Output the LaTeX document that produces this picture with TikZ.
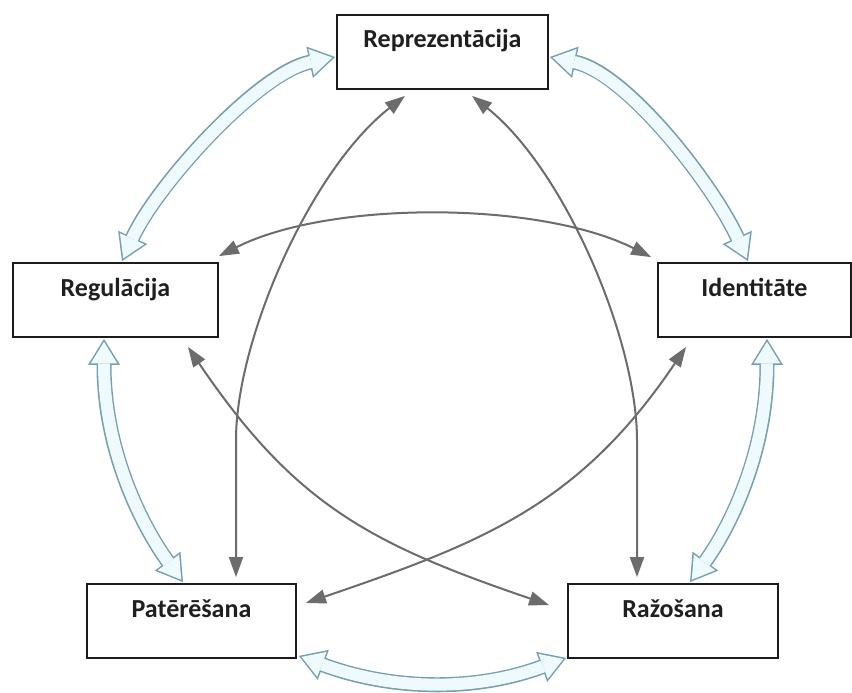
\documentclass[tikz,border=0pt]{standalone}
\usepackage{fontspec}
\setmainfont{Carlito}
\usetikzlibrary{arrows.meta}
\definecolor{holline}{RGB}{118,160,176}
\definecolor{holfill}{RGB}{238,250,253}
\definecolor{greyarrow}{RGB}{108,108,108}
\definecolor{boxline}{RGB}{28,28,28}
\begin{document}
\begin{tikzpicture}[x=1pt,y=-1pt,
  box/.style={draw=boxline, line width=1.8pt, fill=white, rectangle, inner sep=0pt,
    text height=33pt, text depth=41pt, font=\fontsize{26}{30}\selectfont\bfseries, text=black!88},
  grarrow/.style={draw=greyarrow, line width=2pt,
    {Triangle[length=20pt,width=14pt]}-{Triangle[length=20pt,width=14pt]}},
  holout/.style={draw=holline, line width=15pt,
    {Triangle[length=26pt,width=32pt,line width=0pt]}-{Triangle[length=26pt,width=32pt,line width=0pt]}},
  holin/.style={draw=holfill, line width=12pt, shorten <=2.9pt, shorten >=2.9pt,
    {Triangle[length=21.6pt,width=26.6pt,line width=0pt]}-{Triangle[length=21.6pt,width=26.6pt,line width=0pt]}}
]
\useasboundingbox (0,0) rectangle (852,693);
\fill[white] (0,0) rectangle (852,693);

% boxes (placed first for anchors)
\node[box, minimum width=211pt] (rep) at (442.5,52) {Reprezentācija};
\node[box, minimum width=205pt] (reg) at (115.5,300) {Regulācija};
\node[box, minimum width=193pt] (ide) at (754.5,300) {Identitāte};
\node[box, minimum width=209pt] (pat) at (191.5,621) {Patērēšana};
\node[box, minimum width=210pt] (raz) at (673,621) {Ražošana};

% hollow arrow end points
\coordinate (h1a) at ([xshift=6.5pt,yshift=1pt]reg.north);
\coordinate (h1b) at ([xshift=-1pt,yshift=-5pt]rep.west);
\coordinate (h2a) at ([xshift=-6.5pt,yshift=1pt]ide.north);
\coordinate (h2b) at ([xshift=1pt,yshift=-5pt]rep.east);
\coordinate (h3a) at ([xshift=-11.5pt,yshift=-1pt]reg.south);
\coordinate (h3b) at ([xshift=-8.5pt,yshift=1pt]pat.north);
\coordinate (h4a) at ([xshift=12.5pt,yshift=-1pt]ide.south);
\coordinate (h4b) at ([xshift=17pt,yshift=1pt]raz.north);
\coordinate (h5a) at ([xshift=2pt,yshift=3pt]pat.south east);
\coordinate (h5b) at ([xshift=-1pt,yshift=1pt]raz.south west);

% grey arrow end points
\coordinate (g1a) at ([xshift=44.5pt,yshift=6pt]pat.north);
\coordinate (g1b) at ([xshift=-37.5pt,yshift=-6pt]rep.south);
\coordinate (g2a) at ([xshift=-36pt,yshift=6pt]raz.north);
\coordinate (g2b) at ([xshift=29.5pt,yshift=-6pt]rep.south);
\coordinate (g3a) at ([yshift=6pt]reg.north east);
\coordinate (g3b) at ([xshift=-6pt,yshift=5pt]ide.north west);
\coordinate (g4a) at ([xshift=72.5pt,yshift=-9pt]reg.south);
\coordinate (g4b) at ([xshift=-18pt,yshift=16pt]raz.west);
\coordinate (g5a) at ([xshift=-68.5pt,yshift=-9pt]ide.south);
\coordinate (g5b) at ([xshift=9pt,yshift=18pt]pat.east);

% hollow arrows: outline pass
\draw[holout] (h1a) .. controls (156,186) and (257.6,73) .. (h1b);
\draw[holout] (h2a) .. controls (714,186) and (627,73) .. (h2b);
\draw[holout] (h3a) .. controls (104,458) and (147.6,534) .. (h3b);
\draw[holout] (h4a) .. controls (767,458) and (725.4,534) .. (h4b);
\draw[holout] (h5a) .. controls (391,690) and (474,692) .. (h5b);
% hollow arrows: fill pass
\draw[holin] (h1a) .. controls (156,186) and (257.6,73) .. (h1b);
\draw[holin] (h2a) .. controls (714,186) and (627,73) .. (h2b);
\draw[holin] (h3a) .. controls (104,458) and (147.6,534) .. (h3b);
\draw[holin] (h4a) .. controls (767,458) and (725.4,534) .. (h4b);
\draw[holin] (h5a) .. controls (391,690) and (474,692) .. (h5b);

% grey arrows
\draw[grarrow] (g1a) -- (236,440) .. controls (236,340) and (310,170) .. (g1b);
\draw[grarrow] (g2a) -- (637,440) .. controls (637,340) and (565,170) .. (g2b);
\draw[grarrow] (g3a) .. controls (330,200) and (540,201) .. (g3b);
\draw[grarrow] (g4a) .. controls (294,504) and (370,544) .. (g4b);
\draw[grarrow] (g5a) .. controls (580,504) and (485,542) .. (g5b);

% redraw boxes on top
\node[box, minimum width=211pt] at (rep) {Reprezentācija};
\node[box, minimum width=205pt] at (reg) {Regulācija};
\node[box, minimum width=193pt] at (ide) {Identitāte};
\node[box, minimum width=209pt] at (pat) {Patērēšana};
\node[box, minimum width=210pt] at (raz) {Ražošana};
\end{tikzpicture}
\end{document}
